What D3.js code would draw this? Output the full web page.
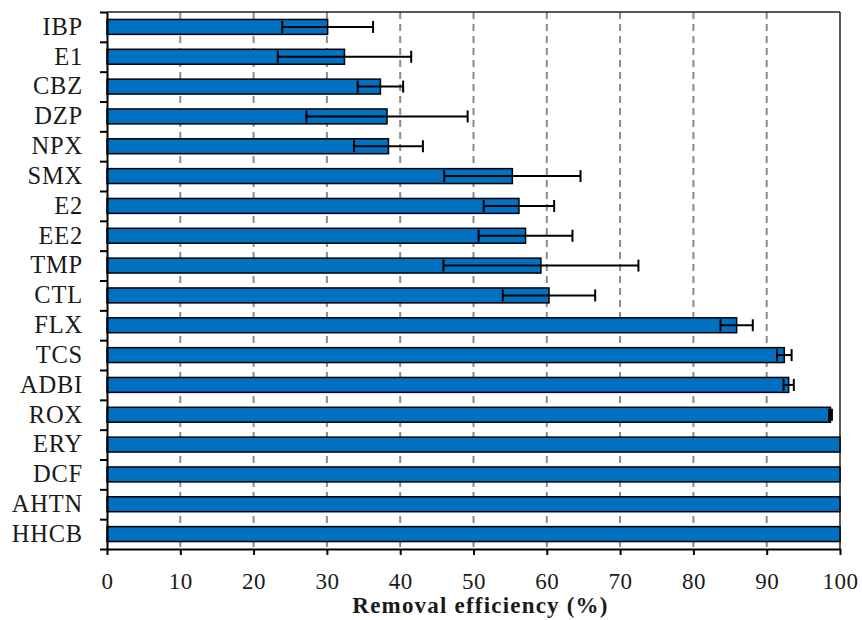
<!DOCTYPE html>
<html>
<head>
<meta charset="utf-8">
<script src="https://cdn.jsdelivr.net/npm/d3@7"></script>
<style>
  body { margin: 0; background: #fff; }
  svg { display: block; }
  text { font-family: "Liberation Serif", "DejaVu Serif", serif; fill: #1a1a1a; }
</style>
</head>
<body>
<svg id="chart" width="862" height="620"></svg>
<script>
// compounds, top to bottom
var compounds = ["IBP", "E1", "CBZ", "DZP", "NPX", "SMX", "E2", "EE2", "TMP", "CTL",
                 "FLX", "TCS", "ADBI", "ROX", "ERY", "DCF", "AHTN", "HHCB"];
// mean removal efficiency (%)
var removal = [30.1, 32.4, 37.3, 38.2, 38.4, 55.3, 56.2, 57.1, 59.2, 60.3,
               85.9, 92.4, 93.0, 98.7, 100, 100, 100, 100];
// standard deviation (%)
var deviation = [6.2, 9.1, 3.1, 11.0, 4.7, 9.3, 4.8, 6.4, 13.3, 6.3,
                 2.2, 1.0, 0.7, 0.2, 0, 0, 0, 0];
var xTicks = [0, 10, 20, 30, 40, 50, 60, 70, 80, 90, 100];

var svg = d3.select("#chart"),
    margin = {top: 12, right: 22, bottom: 71, left: 107},
    width = 862 - margin.left - margin.right,
    height = 620 - margin.top - margin.bottom;

var g = svg.append("g")
    .attr("transform", "translate(" + margin.left + "," + margin.top + ")");

var xScale = d3.scaleLinear().domain([0, 100]).range([0, width]);
var yScale = d3.scaleBand().domain(compounds).range([0, height])
    .paddingInner(0.5).paddingOuter(0.25);
var yEdges = d3.scaleLinear().domain([0, compounds.length]).range([0, height]);

var rows = compounds.map(function (c, i) {
    return {name: c, value: removal[i], sd: deviation[i]};
});

// dashed gridlines
g.append("g")
    .selectAll("line")
    .data(xTicks.filter(function (d) { return d > 0 && d < 100; }))
    .enter().append("line")
    .attr("x1", function (d) { return xScale(d); })
    .attr("x2", function (d) { return xScale(d); })
    .attr("y1", 0)
    .attr("y2", height)
    .attr("stroke", "#8a8a8a")
    .attr("stroke-width", 2)
    .attr("stroke-dasharray", "7,5");

// frame: top and right
g.append("line")
    .attr("x1", 0).attr("x2", width).attr("y1", 0).attr("y2", 0)
    .attr("stroke", "#222").attr("stroke-width", 1.5);
g.append("line")
    .attr("x1", width).attr("x2", width).attr("y1", 0).attr("y2", height)
    .attr("stroke", "#222").attr("stroke-width", 1.5);

// bars
g.selectAll(".bar")
    .data(rows)
    .enter().append("rect")
    .attr("class", "bar")
    .attr("x", xScale(0))
    .attr("y", function (d) { return yScale(d.name); })
    .attr("width", function (d) { return xScale(d.value) - xScale(0); })
    .attr("height", yScale.bandwidth())
    .attr("fill", "#0070c0")
    .attr("stroke", "#000")
    .attr("stroke-width", 1.5);

// error bars
var err = g.selectAll(".err")
    .data(rows.filter(function (d) { return d.sd > 0; }))
    .enter().append("g")
    .attr("class", "err")
    .attr("transform", function (d) {
        return "translate(0," + (yScale(d.name) + yScale.bandwidth() / 2) + ")";
    })
    .attr("stroke", "#000")
    .attr("stroke-width", 2);

err.append("line")
    .attr("x1", function (d) { return xScale(d.value - d.sd); })
    .attr("x2", function (d) { return xScale(Math.min(100, d.value + d.sd)); })
    .attr("y1", 0).attr("y2", 0);

err.append("line")
    .attr("x1", function (d) { return xScale(d.value - d.sd); })
    .attr("x2", function (d) { return xScale(d.value - d.sd); })
    .attr("y1", -6).attr("y2", 6);

err.append("line")
    .attr("x1", function (d) { return xScale(Math.min(100, d.value + d.sd)); })
    .attr("x2", function (d) { return xScale(Math.min(100, d.value + d.sd)); })
    .attr("y1", -6).attr("y2", 6);

// x axis
var xAxis = g.append("g")
    .attr("transform", "translate(0," + height + ")")
    .call(d3.axisBottom(xScale).tickValues(xTicks).tickSize(6).tickSizeOuter(0).tickPadding(18));
xAxis.select(".domain").attr("stroke", "#000").attr("stroke-width", 2);
xAxis.selectAll(".tick line").attr("stroke", "#000").attr("stroke-width", 2);
xAxis.selectAll("text")
    .attr("font-size", 23)
    .attr("font-family", "Liberation Serif, serif")
    .attr("letter-spacing", 0.5)
    .attr("fill", "#1a1a1a");

// y axis: category boundaries as ticks
var yTickAxis = g.append("g")
    .call(d3.axisLeft(yEdges).ticks(compounds.length).tickSize(7).tickSizeOuter(0).tickFormat(""));
yTickAxis.select(".domain").attr("stroke", "#000").attr("stroke-width", 2);
yTickAxis.selectAll(".tick line").attr("stroke", "#000").attr("stroke-width", 2);

// y axis: labels
var yLabelAxis = g.append("g")
    .call(d3.axisLeft(yScale).tickSize(0).tickPadding(24));
yLabelAxis.select(".domain").remove();
yLabelAxis.selectAll("text")
    .attr("font-size", 24.5)
    .attr("font-family", "Liberation Serif, serif")
    .attr("letter-spacing", 0.8)
    .attr("dy", "0.32em")
    .attr("fill", "#1a1a1a");

// axis title
svg.append("text")
    .attr("x", margin.left + width / 2 + 7)
    .attr("y", 613)
    .attr("text-anchor", "middle")
    .attr("font-size", 23)
    .attr("font-weight", "bold")
    .attr("letter-spacing", 1.2)
    .text("Removal efficiency (%)");
</script>
</body>
</html>
